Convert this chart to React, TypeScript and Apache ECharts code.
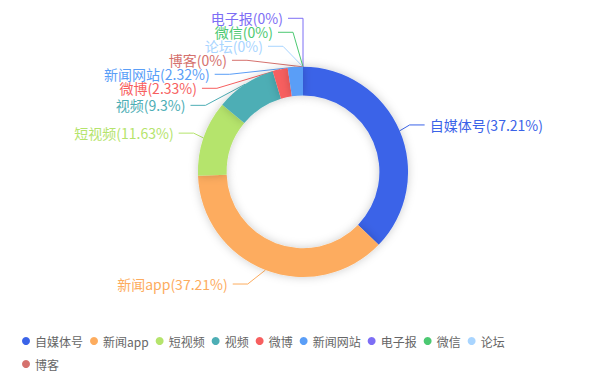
import React, { useEffect, useRef } from "react";
import * as echarts from "echarts";

const categories = ["自媒体号", "新闻app", "短视频", "视频", "微博", "新闻网站", "电子报", "微信", "论坛", "博客"];
const values = [16, 16, 5, 4, 1, 1, 0, 0, 0, 0];
const colors = ["#3a63e8", "#fdac5e", "#b5e46c", "#4daeb5", "#f75f5f", "#5a9ef7", "#7d6ef5", "#4cc972", "#a9d5ff", "#d5716d"];

const CENTER = [0.5, 0.45];
const RADIUS = [0.4, 0.55];
const LINE_LEN = 15;
const LINE_LEN2 = 15;
const LABEL_DIST = 5;
const LABEL_FONT = 14;
const LABEL_BOX = 14;

type Lab = { left: boolean; x: number; y: number; pts: number[][] };

// Classic (ECharts 4 style) outer-label overlap layout, computed from the data.
function computeLabels(w: number, h: number): Lab[] {
  const cx = w * CENTER[0];
  const cy = h * CENTER[1];
  const r = (Math.min(w, h) / 2) * RADIUS[1];
  const total = values.reduce((a, b) => a + b, 0);
  let angle = -Math.PI / 2;
  const labs: Lab[] = values.map((v) => {
    const span = total ? (v / total) * Math.PI * 2 : 0;
    const mid = angle + span / 2;
    angle += span;
    const dx = Math.cos(mid);
    const dy = Math.sin(mid);
    const x1 = cx + r * dx;
    const y1 = cy + r * dy;
    const x2 = x1 + dx * LINE_LEN;
    const y2 = y1 + dy * LINE_LEN;
    const left = dx < 0;
    const x3 = x2 + (left ? -1 : 1) * LINE_LEN2;
    return { left, x: x3 + (left ? -LABEL_DIST : LABEL_DIST), y: y2, pts: [[x1, y1], [x2, y2], [x3, y2]] };
  });
  const th = LABEL_BOX;
  const side = (list: Lab[], dir: number) => {
    list.sort((a, b) => a.y - b.y);
    const shiftUp = (end: number, delta: number) => {
      for (let j = end; j >= 0; j--) {
        if (list[j].y - delta < 0) break;
        list[j].y -= delta;
        if (j > 0 && list[j].y > list[j - 1].y + th) break;
      }
    };
    const shiftDown = (start: number, end: number, delta: number) => {
      for (let j = start; j < end; j++) {
        if (list[j].y + delta > h) break;
        list[j].y += delta;
        if (j > start && j + 1 < end && list[j + 1].y > list[j].y + th) {
          shiftUp(j, delta / 2);
          return;
        }
      }
      shiftUp(end - 1, delta / 2);
    };
    let lastY = 0;
    for (let i = 0; i < list.length; i++) {
      const d = list[i].y - lastY;
      if (d < 0) shiftDown(i, list.length, -d);
      lastY = list[i].y + th;
    }
    if (h - lastY < 0) shiftUp(list.length - 1, lastY - h);
    const changeX = (sub: Lab[], down: boolean) => {
      let last = down ? Number.MAX_VALUE : 0;
      for (const it of sub) {
        const dY = Math.abs(it.y - cy);
        const R = r + LINE_LEN + LINE_LEN2;
        let dX = dY < r + LINE_LEN ? Math.sqrt(R * R - dY * dY) : Math.abs(it.x - cx);
        if (down && dX >= last) dX = last - 10;
        if (!down && dX <= last) dX = last + 10;
        it.x = cx + dX * dir;
        last = dX;
      }
    };
    changeX(list.filter((l) => l.y < cy), false);
    changeX(list.filter((l) => l.y >= cy), true);
  };
  side(labs.filter((l) => !l.left), 1);
  side(labs.filter((l) => l.left), -1);
  labs.forEach((l) => {
    const d = l.pts[1][0] - l.pts[2][0];
    l.pts[2][0] = l.left ? l.x + LABEL_DIST : l.x - LABEL_DIST;
    l.pts[1][0] = l.pts[2][0] + d;
    l.pts[1][1] = l.y;
    l.pts[2][1] = l.y;
  });
  return labs;
}

export default function App() {
  const ref = useRef<HTMLDivElement>(null);
  useEffect(() => {
    const chart = echarts.init(ref.current!, null, { renderer: "svg" });
    const labs = computeLabels(chart.getWidth(), chart.getHeight());
    chart.setOption({
      animation: false,
      color: colors,
      textStyle: { fontFamily: "'Noto Sans CJK SC', 'Noto Sans', sans-serif" },
      legend: {
        left: 17,
        bottom: 5,
        width: 500,
        icon: "circle",
        itemWidth: 8,
        itemHeight: 8,
        itemGap: 7,
        textStyle: { color: "#666", fontSize: 12, lineHeight: 16 },
        data: categories,
      },
      series: [
        {
          type: "pie",
          center: CENTER.map((c) => c * 100 + "%"),
          radius: RADIUS.map((c) => c * 100 + "%"),
          avoidLabelOverlap: false,
          itemStyle: { shadowBlur: 10, shadowColor: "rgba(0,0,0,0.2)" },
          label: { formatter: "{b}({d}%)", fontSize: LABEL_FONT, color: "inherit" },
          labelLine: { length: LINE_LEN, length2: LINE_LEN2 },
          labelLayout: (p: any) => {
            const l = labs[p.dataIndex];
            return {
              x: l.x,
              y: l.y,
              align: l.left ? "right" : "left",
              verticalAlign: "middle",
              labelLinePoints: l.pts,
            };
          },
          data: categories.map((n, i) => ({ name: n, value: values[i] })),
        },
      ],
    });
    return () => chart.dispose();
  }, []);
  return <div ref={ref} style={{ width: 606, height: 382, margin: -8 }} />;
}
